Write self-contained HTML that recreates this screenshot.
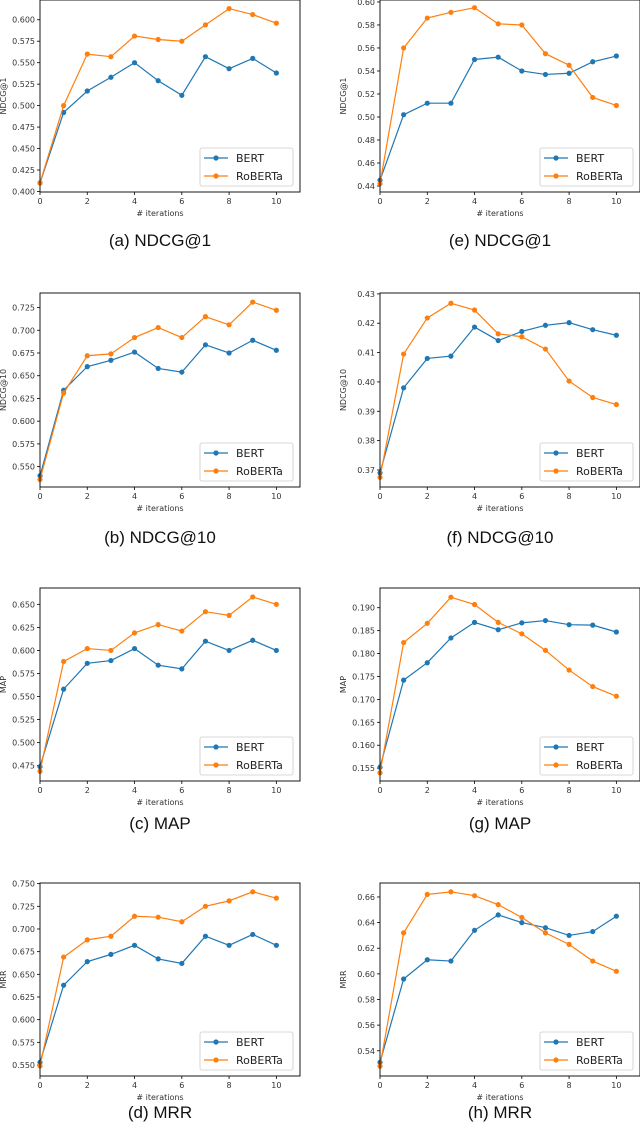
<!DOCTYPE html>
<html><head><meta charset="utf-8"><style>
html,body{margin:0;padding:0;background:#fff;}
svg{display:block;font-family:"DejaVu Sans","Liberation Sans",sans-serif;}
.cap{font-family:"Liberation Sans",sans-serif;font-size:17px;fill:#111;}
</style></head><body>
<svg id="fig" width="640" height="1140" viewBox="0 0 640 1140"></svg>
<script>
const iterations = [0,1,2,3,4,5,6,7,8,9,10];
const xTicks = [0,2,4,6,8,10];
const seriesNames = ["BERT","RoBERTa"];
const bertA = [0.41,0.492,0.517,0.533,0.550,0.529,0.512,0.557,0.543,0.555,0.538];
const robA  = [0.41,0.500,0.560,0.557,0.581,0.577,0.575,0.594,0.613,0.606,0.596];
const bertE = [0.445,0.502,0.512,0.512,0.550,0.552,0.540,0.537,0.538,0.548,0.553];
const robE  = [0.442,0.560,0.586,0.591,0.595,0.581,0.580,0.555,0.545,0.517,0.510];
const bertB = [0.540,0.634,0.660,0.667,0.676,0.658,0.654,0.684,0.675,0.689,0.678];
const robB  = [0.536,0.631,0.672,0.674,0.692,0.703,0.692,0.715,0.706,0.731,0.722];
const bertF = [0.369,0.398,0.408,0.4088,0.4187,0.4141,0.4172,0.4193,0.4202,0.4178,0.4159];
const robF  = [0.3675,0.4095,0.4218,0.4268,0.4245,0.4164,0.4154,0.4112,0.4003,0.3947,0.3923];
const bertC = [0.474,0.558,0.586,0.589,0.602,0.584,0.580,0.610,0.600,0.611,0.600];
const robC  = [0.469,0.588,0.602,0.600,0.619,0.628,0.621,0.642,0.638,0.658,0.650];
const bertG = [0.1552,0.1742,0.1780,0.1834,0.1868,0.1852,0.1867,0.1872,0.1863,0.1862,0.1847];
const robG  = [0.1540,0.1824,0.1866,0.1923,0.1907,0.1868,0.1843,0.1807,0.1764,0.1728,0.1707];
const bertD = [0.553,0.638,0.664,0.672,0.682,0.667,0.662,0.692,0.682,0.694,0.682];
const robD  = [0.549,0.669,0.688,0.692,0.714,0.713,0.708,0.725,0.731,0.741,0.734];
const bertH = [0.531,0.596,0.611,0.610,0.634,0.646,0.640,0.636,0.630,0.633,0.645];
const robH  = [0.528,0.632,0.662,0.664,0.661,0.654,0.644,0.632,0.623,0.610,0.602];
const ticksA = ["0.400","0.425","0.450","0.475","0.500","0.525","0.550","0.575","0.600"];
const ticksE = ["0.44","0.46","0.48","0.50","0.52","0.54","0.56","0.58","0.60"];
const ticksB = ["0.550","0.575","0.600","0.625","0.650","0.675","0.700","0.725"];
const ticksF = ["0.37","0.38","0.39","0.40","0.41","0.42","0.43"];
const ticksC = ["0.475","0.500","0.525","0.550","0.575","0.600","0.625","0.650"];
const ticksG = ["0.155","0.160","0.165","0.170","0.175","0.180","0.185","0.190"];
const ticksD = ["0.550","0.575","0.600","0.625","0.650","0.675","0.700","0.725","0.750"];
const ticksH = ["0.54","0.56","0.58","0.60","0.62","0.64","0.66"];

const panels = [
 {id:"a",cap:"(a) NDCG@1",yl:"NDCG@1",x0:40,x1:300,y0:0,y1:192,ymin:0.3994,ymax:0.623,ticks:ticksA,b:bertA,r:robA,capY:246},
 {id:"e",cap:"(e) NDCG@1",yl:"NDCG@1",x0:380,x1:640,y0:0,y1:192,ymin:0.4348,ymax:0.6017,ticks:ticksE,b:bertE,r:robE,capY:246},
 {id:"b",cap:"(b) NDCG@10",yl:"NDCG@10",x0:40,x1:300,y0:293,y1:487,ymin:0.5276,ymax:0.741,ticks:ticksB,b:bertB,r:robB,capY:543},
 {id:"f",cap:"(f) NDCG@10",yl:"NDCG@10",x0:380,x1:640,y0:293,y1:487,ymin:0.3642,ymax:0.4303,ticks:ticksF,b:bertF,r:robF,capY:543},
 {id:"c",cap:"(c) MAP",yl:"MAP",x0:40,x1:300,y0:588,y1:781,ymin:0.4584,ymax:0.6677,ticks:ticksC,b:bertC,r:robC,capY:829},
 {id:"g",cap:"(g) MAP",yl:"MAP",x0:380,x1:640,y0:588,y1:781,ymin:0.1522,ymax:0.1943,ticks:ticksG,b:bertG,r:robG,capY:829},
 {id:"d",cap:"(d) MRR",yl:"MRR",x0:40,x1:300,y0:883,y1:1076,ymin:0.5379,ymax:0.7507,ticks:ticksD,b:bertD,r:robD,capY:1118},
 {id:"h",cap:"(h) MRR",yl:"MRR",x0:380,x1:640,y0:883,y1:1076,ymin:0.5203,ymax:0.6709,ticks:ticksH,b:bertH,r:robH,capY:1118}
];
const colors = ["#1f77b4","#ff7f0e"];
const NS = "http://www.w3.org/2000/svg";
const svg = document.getElementById("fig");
function mk(tag, attrs, parent, text){
  const e = document.createElementNS(NS, tag);
  for (const k in attrs) e.setAttribute(k, attrs[k]);
  if (text !== undefined) e.textContent = text;
  parent.appendChild(e); return e;
}
panels.forEach(p => {
  const g = mk("g", {}, svg);
  
  
  const sx = v => p.x0 + (v - 0) / 11 * (p.x1 - p.x0);
  const sy = v => p.y1 - (v - p.ymin) / (p.ymax - p.ymin) * (p.y1 - p.y0);
  // y ticks
  p.ticks.forEach(t => {
    const y = sy(parseFloat(t));
    mk("line", {x1:p.x0-3, x2:p.x0, y1:y, y2:y, stroke:"#000", "stroke-width":0.8}, g);
    const tx = mk("text", {x:p.x0-5, y:y+3, "font-size":8, fill:"#333", "text-anchor":"end"}, g, t);
    
    
  });
  xTicks.forEach(t => {
    const x = sx(t);
    mk("line", {x1:x, x2:x, y1:p.y1, y2:p.y1+3, stroke:"#000", "stroke-width":0.8}, g);
    const tx = mk("text", {x:x, y:p.y1+12, "font-size":8, fill:"#333", "text-anchor":"middle"}, g, String(t));
    
    
  });
  const xt = mk("text", {x:(p.x0+p.x0+260)/2 - 10, y:p.y1+24, "font-size":8, fill:"#333", "text-anchor":"middle"}, g, "# iterations");
  
  
  const yt = mk("text", {x:0, y:0, "font-size":8, fill:"#333", "text-anchor":"middle",
    transform:`translate(${p.x0-34},${(p.y0+p.y1)/2}) rotate(-90)`}, g, p.yl);
  
  
  [p.b, p.r].forEach((vals, si) => {
    const pts = iterations.map((it, i) => sx(it) + "," + sy(vals[i])).join(" ");
    const pl = mk("polyline", {points:pts, fill:"none", stroke:colors[si], "stroke-width":1.2}, g);
    
    
    iterations.forEach((it, i) => {
      const c = mk("circle", {cx:sx(it), cy:sy(vals[i]), r:2.6, fill:colors[si]}, g);
      
      
    });
  });
  const fr = mk("rect", {x:p.x0, y:p.y0, width:p.x1-p.x0, height:p.y1-p.y0, fill:"none", stroke:"#000", "stroke-width":0.9}, g);
  
  
  // legend
  const lg = mk("g", {}, g);
  
  
  const lx = p.x0 + 160, ly = p.y1 - 44;
  mk("rect", {x:lx, y:ly, width:93, height:38, rx:2, fill:"#fff", stroke:"#ccc", "stroke-width":0.8}, lg);
  seriesNames.forEach((n, i) => {
    const yy = ly + 10 + i * 18;
    mk("line", {x1:lx+4, x2:lx+28, y1:yy, y2:yy, stroke:colors[i], "stroke-width":1.2}, lg);
    mk("circle", {cx:lx+16, cy:yy, r:2.6, fill:colors[i]}, lg);
    const lt = mk("text", {x:lx+36, y:yy+4, "font-size":11, fill:"#222"}, lg, n);
    
    
  });
  const cap = mk("text", {x:(p.x0 - 40) + 160, y:p.capY, "text-anchor":"middle", class:"cap"}, g, p.cap);
  
  
});
</script>
</body></html>
